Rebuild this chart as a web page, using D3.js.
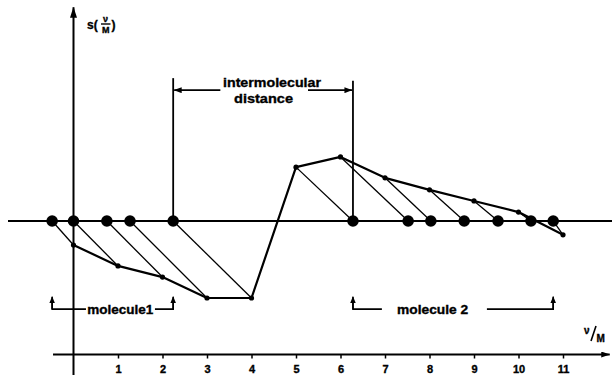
<!DOCTYPE html>
<html>
<head>
<meta charset="utf-8">
<script src="https://cdn.jsdelivr.net/npm/d3@7"></script>
<style>
  body { margin: 0; background: #fff; }
  svg { display: block; }
  text { font-family: "Liberation Sans", Arial, sans-serif; font-weight: bold; fill: #000; stroke: #000; stroke-width: 0.35px; }
</style>
</head>
<body>
<div class="container"></div>
<script>
// tick labels of the v/M axis
var tickValues = [1, 2, 3, 4, 5, 6, 7, 8, 9, 10, 11];
// s(v/M) at each integer v/M
var curveV = [0, 1, 2, 3, 4, 5, 6, 7, 8, 9, 10, 11];
var curveS = [-0.54, -1.01, -1.26, -1.73, -1.73, 1.21, 1.44, 0.97, 0.70, 0.45, 0.20, -0.31];
// big dots on the zero line, one for each curve point
var baseDots = [-0.48, 0, 0.75, 1.27, 2.24, 6.28, 7.52, 8.03, 8.78, 9.54, 10.28, 10.78];
// brackets
var moleculeLabels = ['molecule1', 'molecule 2'];
var moleculeSpans = [[-0.48, 2.24], [6.28, 10.78]];
var distanceSpan = [2.24, 6.28];
var distanceLabels = ['intermolecular', 'distance'];

const WIDTH = 612;
const HEIGHT = 375;

var xScale = d3.scaleLinear().domain([0, 11]).range([73.5, 563]);
var yScale = d3.scaleLinear().domain([-3, 4.75]).range([354.5, 9.6]);

var translate = (x, y) => (`translate(${x}, ${y})`);

var svg = d3.select('.container').append('svg')
    .attr('width', WIDTH)
    .attr('height', HEIGHT);

// arrow heads
var defs = svg.append('defs');
var addMarker = function (id, len, half) {
    defs.append('marker')
        .attr('id', id)
        .attr('viewBox', `0 ${-half} ${len} ${2 * half}`)
        .attr('refX', len - 0.5)
        .attr('refY', 0)
        .attr('markerUnits', 'userSpaceOnUse')
        .attr('markerWidth', len)
        .attr('markerHeight', 2 * half)
        .attr('orient', 'auto')
        .append('path')
        .attr('d', `M0,${-half}L${len},0L0,${half}Z`)
        .attr('fill', '#000');
};
addMarker('bigArrow', 11, 3.5);
addMarker('axArrow', 9, 3);
addMarker('smallArrow', 8, 3);
addMarker('tinyArrow', 7, 2.8);

// bottom axis
var xAxis = d3.axisBottom(xScale)
    .tickValues(tickValues)
    .tickSizeInner(4)
    .tickSizeOuter(0)
    .tickPadding(7);

var axisG = svg.append('g')
    .attr('transform', translate(0, yScale(-3)))
    .call(xAxis);
axisG.select('.domain').remove();
axisG.selectAll('.tick line').attr('stroke-width', 1.5);
axisG.selectAll('.tick text')
    .style('font-size', '11px')
    .style('font-family', '"Liberation Sans", Arial, sans-serif')
    .style('font-weight', 'bold');

svg.append('line')
    .attr('x1', xScale(-0.46)).attr('x2', xScale(12.05))
    .attr('y1', yScale(-3)).attr('y2', yScale(-3))
    .attr('stroke', '#000').attr('stroke-width', 1.8)
    .attr('marker-end', 'url(#axArrow)');

// vertical axis
svg.append('line')
    .attr('x1', xScale(0)).attr('x2', xScale(0))
    .attr('y1', HEIGHT).attr('y2', yScale(4.8))
    .attr('stroke', '#000').attr('stroke-width', 2)
    .attr('marker-end', 'url(#bigArrow)');

// zero line
svg.append('line')
    .attr('x1', 8).attr('x2', WIDTH)
    .attr('y1', yScale(0)).attr('y2', yScale(0))
    .attr('stroke', '#000').attr('stroke-width', 1.8);

// axis titles
var sLab = svg.append('g');
sLab.append('text').attr('x', 87).attr('y', 29).style('font-size', '12px').text('s(');
sLab.append('text').attr('x', 105.5).attr('y', 22).attr('text-anchor', 'middle').style('font-size', '9px').text('ν');
sLab.append('line').attr('x1', 101).attr('x2', 110.5).attr('y1', 24).attr('y2', 24).attr('stroke', '#000').attr('stroke-width', 1.4);
sLab.append('text').attr('x', 105.8).attr('y', 32.5).attr('text-anchor', 'middle').style('font-size', '9px').text('M');
sLab.append('text').attr('x', 111.5).attr('y', 29).style('font-size', '12px').text(')');

var vLab = svg.append('g');
vLab.append('text').attr('x', 584).attr('y', 334).style('font-size', '10px').text('ν');
vLab.append('line').attr('x1', 591).attr('x2', 596).attr('y1', 341).attr('y2', 326).attr('stroke', '#000').attr('stroke-width', 1.6);
vLab.append('text').attr('x', 596.5).attr('y', 341.5).style('font-size', '10px').text('M');

// vertical lines of the distance bracket
svg.append('g').selectAll('line')
    .data(distanceSpan)
    .enter().append('line')
    .attr('x1', d => xScale(d)).attr('x2', d => xScale(d))
    .attr('y1', yScale(0)).attr('y2', (d, i) => yScale(i === 0 ? 3.21 : 3.15))
    .attr('stroke', '#000').attr('stroke-width', 1.8);

// diagonals from the dots to the curve
svg.append('g').selectAll('line')
    .data(curveV)
    .enter().append('line')
    .attr('x1', (d, i) => xScale(baseDots[i]))
    .attr('y1', yScale(0))
    .attr('x2', d => xScale(d))
    .attr('y2', (d, i) => yScale(curveS[i]))
    .attr('stroke', '#000').attr('stroke-width', 1.3);

// the curve
var line = d3.line()
    .x((d, i) => xScale(curveV[i]))
    .y(d => yScale(d));

svg.append('path')
    .attr('d', line(curveS))
    .attr('fill', 'none')
    .attr('stroke', '#000')
    .attr('stroke-width', 2.2)
    .attr('stroke-linejoin', 'round');

svg.append('g').selectAll('circle')
    .data(curveS)
    .enter().append('circle')
    .attr('cx', (d, i) => xScale(curveV[i]))
    .attr('cy', d => yScale(d))
    .attr('r', 2.6);

svg.append('g').selectAll('circle')
    .data(baseDots)
    .enter().append('circle')
    .attr('cx', d => xScale(d))
    .attr('cy', yScale(0))
    .attr('r', 5.8);

// intermolecular distance bracket
var dY = yScale(2.94);
svg.append('line')
    .attr('x1', xScale(3.3)).attr('x2', xScale(distanceSpan[0]) + 1)
    .attr('y1', dY).attr('y2', dY)
    .attr('stroke', '#000').attr('stroke-width', 1.6)
    .attr('marker-end', 'url(#smallArrow)');
svg.append('line')
    .attr('x1', xScale(5.27)).attr('x2', xScale(distanceSpan[1]) - 1)
    .attr('y1', dY).attr('y2', dY)
    .attr('stroke', '#000').attr('stroke-width', 1.6)
    .attr('marker-end', 'url(#smallArrow)');
svg.append('text')
    .attr('x', 272).attr('y', 86.5)
    .attr('text-anchor', 'middle')
    .attr('textLength', 98).attr('lengthAdjust', 'spacingAndGlyphs')
    .style('font-size', '13px')
    .text(distanceLabels[0]);
svg.append('text')
    .attr('x', 263.5).attr('y', 103)
    .attr('text-anchor', 'middle')
    .attr('textLength', 59).attr('lengthAdjust', 'spacingAndGlyphs')
    .style('font-size', '13px')
    .text(distanceLabels[1]);

// molecule brackets
var mY = yScale(-1.98);
var mTop = yScale(-1.7);
var textMid = [1.05, 8.07];
var textLen = [66, 71];
var segEnds = [[0.28, 1.83], [6.93, 9.29]];

moleculeSpans.forEach(function (span, i) {
    var g = svg.append('g');
    g.append('path')
        .attr('d', `M${xScale(span[0])},${mTop + 6} L${xScale(span[0])},${mY} L${xScale(segEnds[i][0])},${mY}`)
        .attr('fill', 'none').attr('stroke', '#000').attr('stroke-width', 1.6);
    g.append('path')
        .attr('d', `M${xScale(segEnds[i][1])},${mY} L${xScale(span[1])},${mY} L${xScale(span[1])},${mTop + 6}`)
        .attr('fill', 'none').attr('stroke', '#000').attr('stroke-width', 1.6);
    [span[0], span[1]].forEach(function (v) {
        g.append('line')
            .attr('x1', xScale(v)).attr('x2', xScale(v))
            .attr('y1', mY).attr('y2', mTop)
            .attr('stroke', '#000').attr('stroke-width', 1.6)
            .attr('marker-end', 'url(#tinyArrow)');
    });
    g.append('text')
        .attr('x', xScale(textMid[i])).attr('y', mY + 4.5)
        .attr('text-anchor', 'middle')
        .attr('textLength', textLen[i]).attr('lengthAdjust', 'spacingAndGlyphs')
        .style('font-size', '12.5px')
        .text(moleculeLabels[i]);
});
</script>
</body>
</html>
